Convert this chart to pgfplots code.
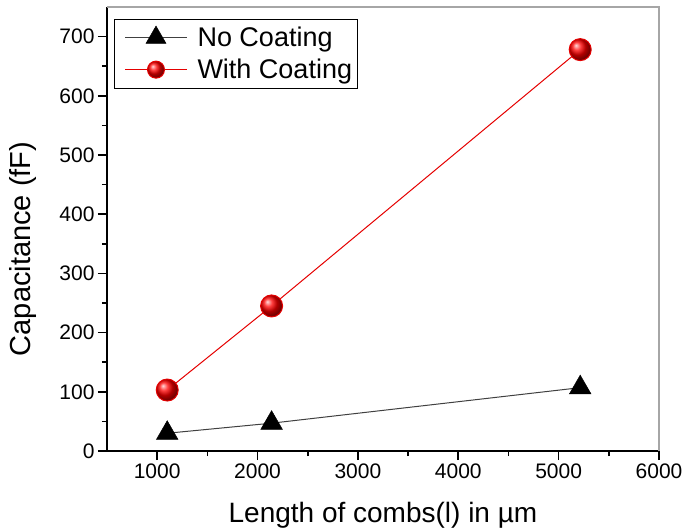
\documentclass[border=0pt]{standalone}
\usepackage{pgfplots}
\pgfplotsset{compat=1.18}
\usepackage{fontspec}
\setmainfont{Liberation Sans}
\begin{document}
\begin{tikzpicture}[x=1pt,y=1pt]
\begin{axis}[
  at={(0,0)}, anchor=south west,
  width=552pt, height=444pt, scale only axis,
  xmin=500, xmax=6000, ymin=0, ymax=750,
  xtick={1000,2000,3000,4000,5000,6000},
  ytick={0,100,200,300,400,500,600,700},
  minor x tick num=1, minor y tick num=1,
  axis x line*=bottom, axis y line*=left,
  axis line style={line width=2pt, -},
  tick align=outside, major tick length=9pt, minor tick length=5pt,
  every tick/.style={line width=1.6pt, black},
  tick label style={font=\fontsize{21}{25}\selectfont},
  /pgf/number format/assume math mode=true,
  scaled ticks=false, /pgf/number format/1000 sep={},
  xlabel={Length of combs(l) in µm},
  ylabel={Capacitance (fF)},
  every axis x label/.style={at={(axis description cs:0.5,-0.162)}, anchor=base, font=\fontsize{28}{33}\selectfont},
  every axis y label/.style={at={(axis description cs:-0.152,0.455)}, anchor=center, rotate=90, font=\fontsize{29}{34}\selectfont},
  legend style={at={(0.0127,0.974)}, anchor=north west, draw=black, line width=1pt,
    font=\fontsize{27}{32}\selectfont, inner xsep=3pt, inner ysep=6pt, row sep=7pt},
  legend cell align=left,
  legend image code/.code={\path (-7pt,0pt) (70pt,0pt);\draw[mark repeat=2,mark phase=2] plot coordinates {(0pt,0pt) (31pt,0pt) (62pt,0pt)};},
  clip=false,
]
\draw[gray!70, line width=1.2pt] (rel axis cs:0,1) -- (rel axis cs:1,1) -- (rel axis cs:1,0);
\addplot[color=black!75, line width=1pt, mark=triangle*, mark size=12.5pt, mark options={fill=black, draw=black, line width=0.5pt},
  legend image post style={mark size=11.5pt}]
  coordinates {(1100,30) (2140,47) (5215,107)};
\addlegendentry{No Coating}
\addplot[color=red!90!black, line width=1pt, mark=ball, mark size=11pt, mark options={ball color=red, draw=none},
  legend image post style={mark size=8.5pt}]
  coordinates {(1100,103) (2140,245) (5215,678)};
\addlegendentry{With Coating}
\end{axis}
\pgfresetboundingbox
\useasboundingbox (-107pt,-80pt) rectangle (577pt,451pt);
\end{tikzpicture}
\end{document}
